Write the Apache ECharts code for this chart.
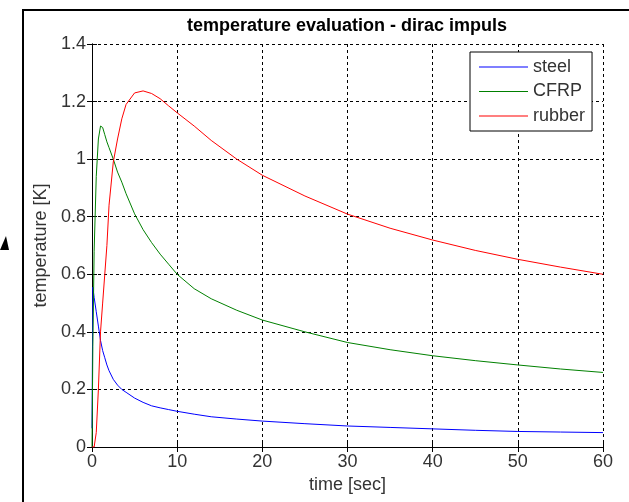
<!DOCTYPE html>
<html>
<head>
<meta charset="utf-8">
<script src="https://cdn.jsdelivr.net/npm/echarts@6/dist/echarts.min.js"></script>
<style>
html,body{margin:0;padding:0;background:#fff;}
#chart{width:629px;height:502px;}
</style>
</head>
<body>
<div id="chart"></div>
<script>
// time samples [sec]
var times = [0, 0.1, 0.25, 0.5, 0.75, 1, 1.25, 1.5, 1.75, 2, 2.5, 3, 3.5, 4, 5, 6, 7, 8, 9, 10, 12, 14, 17, 20, 25, 30, 35, 40, 45, 50, 55, 60];
// temperature [K]
var steel  = [0.065, 0.555, 0.52, 0.47, 0.42, 0.37, 0.335, 0.31, 0.285, 0.265, 0.235, 0.215, 0.2, 0.19, 0.17, 0.155, 0.143, 0.136, 0.13, 0.124, 0.114, 0.105, 0.097, 0.09, 0.081, 0.073, 0.068, 0.063, 0.058, 0.054, 0.052, 0.05];
var cfrp   = [0, 0.35, 0.68, 0.94, 1.07, 1.115, 1.11, 1.085, 1.06, 1.04, 1.0, 0.955, 0.92, 0.88, 0.81, 0.755, 0.71, 0.67, 0.635, 0.6, 0.55, 0.515, 0.475, 0.441, 0.4, 0.363, 0.338, 0.317, 0.3, 0.285, 0.271, 0.259];
var rubber = [0, 0, 0, 0.05, 0.2, 0.4, 0.5, 0.6, 0.7, 0.84, 0.99, 1.07, 1.14, 1.19, 1.23, 1.237, 1.228, 1.21, 1.185, 1.161, 1.115, 1.065, 1.0, 0.944, 0.872, 0.809, 0.76, 0.719, 0.683, 0.652, 0.625, 0.6];
var seriesNames = ['steel', 'CFRP', 'rubber'];
var seriesColors = ['#0000ff', '#008000', '#ff0000'];
var titleText = 'temperature evaluation - dirac impuls';
var xName = 'time [sec]';
var yName = 'temperature [K]';

function pairs(vals){ return times.map(function(t,i){ return [t, vals[i]]; }); }

var FONT = "'Liberation Sans', Arial, Helvetica, sans-serif";
var chart = echarts.init(document.getElementById('chart'), null, {renderer:'canvas'});
var axisLineStyle = {lineStyle:{color:'#000', width:1}};
var tickStyle = {show:true, inside:true, length:5, lineStyle:{color:'#000', width:1}};
var splitStyle = {show:true, lineStyle:{color:'#000', width:1, type:[3,3]}};

var option = {
  backgroundColor:'#fff',
  animation:false,
  grid:{left:92, top:44, width:511, height:403, containLabel:false},
  legend:{
    orient:'vertical', left:470, top:52,
    padding:[6,7,6,9], itemGap:6.5, itemWidth:49, itemHeight:14,
    borderColor:'#000', borderWidth:1, backgroundColor:'#fff',
    textStyle:{fontFamily:FONT, fontSize:18, color:'#333', lineHeight:18},
    data: seriesNames.map(function(n){ return {name:n, icon:'path://M0,0 L49,0 L49,1 L0,1 Z'}; })
  },
  xAxis:[{
    type:'value', position:'bottom', min:0, max:60, interval:10,
    axisLine:axisLineStyle, axisTick:tickStyle, splitLine:splitStyle,
    axisLabel:{fontFamily:FONT, fontSize:18, color:'#333', margin:6},
    name:xName, nameLocation:'middle', nameGap:28,
    nameTextStyle:{fontFamily:FONT, fontSize:18, color:'#333'}
  },{
    type:'value', position:'top', min:0, max:60, interval:10,
    axisLine:axisLineStyle, axisTick:tickStyle, splitLine:{show:false}, axisLabel:{show:false}
  }],
  yAxis:[{
    type:'value', position:'left', min:0, max:1.4, interval:0.2,
    axisLine:axisLineStyle, axisTick:tickStyle, splitLine:splitStyle,
    axisLabel:{fontFamily:FONT, fontSize:18, color:'#333', margin:6},
    name:yName, nameLocation:'middle', nameGap:40, nameRotate:90,
    nameTextStyle:{fontFamily:FONT, fontSize:18, color:'#333'}
  },{
    type:'value', position:'right', min:0, max:1.4, interval:0.2,
    axisLine:axisLineStyle, axisTick:tickStyle, splitLine:{show:false}, axisLabel:{show:false}
  }],
  series:[steel, cfrp, rubber].map(function(vals, i){
    return {
      name:seriesNames[i], type:'line', xAxisIndex:0, yAxisIndex:0,
      data:pairs(vals), showSymbol:false, symbol:'none',
      smooth:false,
      lineStyle:{color:seriesColors[i], width:1},
      itemStyle:{color:seriesColors[i]},
      emphasis:{disabled:true}
    };
  }),
  graphic:[
    {type:'text', x:347, y:26, style:{text:titleText, font:'bold 18px '+FONT, fill:'#000', align:'center', verticalAlign:'middle'}},
    {type:'line', shape:{x1:23, y1:10, x2:629, y2:10}, style:{stroke:'#000', lineWidth:2}},
    {type:'line', shape:{x1:23, y1:9, x2:23, y2:502}, style:{stroke:'#000', lineWidth:2}},
    {type:'polygon', shape:{points:[[0,250],[6,236],[9,250]]}, style:{fill:'#000'}}
  ]
};
chart.setOption(option);
</script>
</body>
</html>
